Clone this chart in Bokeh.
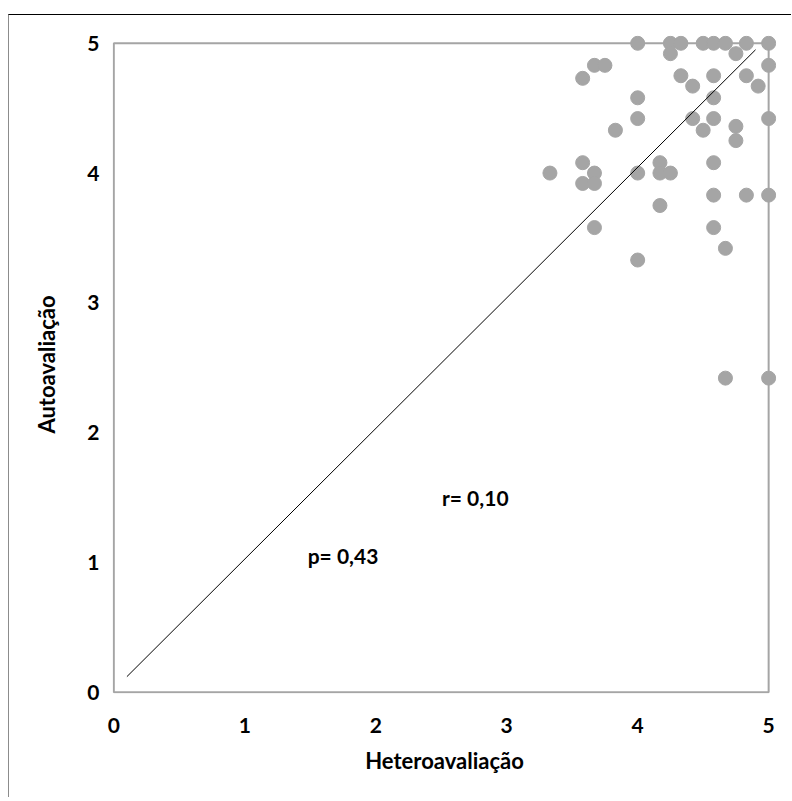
from bokeh.plotting import figure
from bokeh.models import Range1d, FixedTicker
from bokeh.core.properties import value
from bokeh.embed import file_html
from bokeh.resources import INLINE

# Data: (Heteroavaliação, Autoavaliação)
hetero = [4.00, 4.25, 4.33, 4.50, 4.58, 4.67, 4.83, 5.00,
          4.25, 4.75, 3.67, 3.75, 5.00, 3.58, 4.33, 4.58, 4.83,
          4.42, 4.92, 4.00, 4.58, 4.00, 4.42, 4.58, 5.00,
          3.83, 4.50, 4.75, 4.75, 3.58, 3.67, 3.33, 3.58, 3.67,
          4.00, 4.17, 4.17, 4.25, 4.58, 4.58, 4.83, 5.00, 4.17,
          3.67, 4.58, 4.00, 4.67, 4.67, 5.00]
auto = [5.00, 5.00, 5.00, 5.00, 5.00, 5.00, 5.00, 5.00,
        4.92, 4.92, 4.83, 4.83, 4.83, 4.73, 4.75, 4.75, 4.75,
        4.67, 4.67, 4.58, 4.58, 4.42, 4.42, 4.42, 4.42,
        4.33, 4.33, 4.36, 4.25, 4.08, 4.00, 4.00, 3.92, 3.92,
        4.00, 4.08, 4.00, 4.00, 4.08, 3.83, 3.83, 3.83, 3.75,
        3.58, 3.58, 3.33, 3.42, 2.42, 2.42]

ref_x = [0.10, 4.90]
ref_y = [0.12, 4.95]

ticks = [0, 1, 2, 3, 4, 5]
axis_min, axis_max = 0, 5

labels_text = ["r= 0,10", "p= 0,43"]
labels_x = [2.76, 1.75]
labels_y = [1.50, 1.05]

FONT = "Lato"
GRAY = "#A5A5A5"

p = figure(
    output_backend="svg", toolbar_location=None,
    frame_width=664, frame_height=658,
    min_border_left=103, min_border_top=20, min_border_right=15, min_border_bottom=104,
    x_range=Range1d(-0.01, 5.06), y_range=Range1d(-0.01, 5.06),
    styles={"border-top": "1px solid #000000", "border-left": "1px solid #8c8c8c",
            "margin-top": "14px", "margin-left": "8px"},
)
p.outline_line_color = None
p.grid.visible = False

# plot box
p.quad(left=[axis_min], right=[axis_max], bottom=[axis_min], top=[axis_max],
       fill_color=None, line_color=GRAY, line_width=2)

p.scatter(hetero, auto, size=14, color=GRAY, line_color=GRAY)
p.line(ref_x, ref_y, color="black", line_width=1)

p.text(x=labels_x, y=labels_y, text=labels_text, text_font=value(FONT),
       text_font_style="bold", text_font_size="21px", text_align="center",
       text_baseline="middle", text_color="black")

for ax in (p.xaxis[0], p.yaxis[0]):
    ax.ticker = FixedTicker(ticks=ticks)
    ax.axis_line_color = None
    ax.major_tick_line_color = None
    ax.minor_tick_line_color = None
    ax.major_tick_out = 0
    ax.major_tick_in = 0
    ax.major_label_text_font = FONT
    ax.major_label_text_font_style = "bold"
    ax.major_label_text_font_size = "21px"
    ax.major_label_text_color = "black"
    ax.axis_label_text_font = FONT
    ax.axis_label_text_font_style = "bold"
    ax.axis_label_text_font_size = "22px"
    ax.axis_label_text_color = "black"

p.xaxis.axis_label = "Heteroavaliação"
p.yaxis.axis_label = "Autoavaliação"
p.xaxis.major_label_standoff = 24
p.yaxis.major_label_standoff = 13
p.xaxis.axis_label_standoff = 11
p.yaxis.axis_label_standoff = 24

open("out.html", "w").write(file_html(p, INLINE))
